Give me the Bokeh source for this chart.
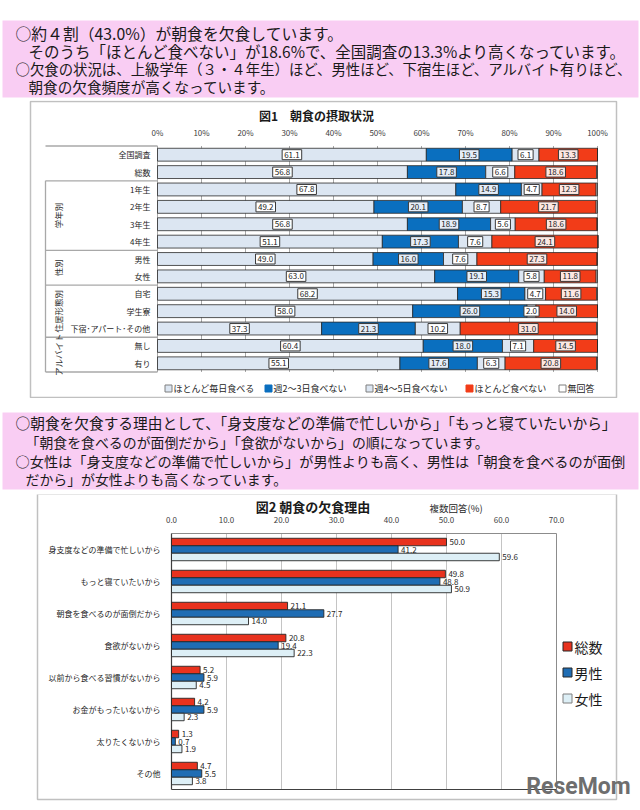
import numpy as np
from bokeh.plotting import figure
from bokeh.models import Range1d, ColumnDataSource
from bokeh.layouts import column
from bokeh.transform import dodge
from bokeh.embed import file_html
from bokeh.resources import INLINE
from bokeh.core.properties import value

FONT = "Noto Sans CJK JP"
W = 640

# ---------------- texts ----------------
summary1 = ["○約４割（43.0%）が朝食を欠食しています。",
            "そのうち「ほとんど食べない」が18.6%で、全国調査の13.3%より高くなっています。",
            "○欠食の状況は、上級学年（３・４年生）ほど、男性ほど、下宿生ほど、アルバイト有りほど、",
            "朝食の欠食頻度が高くなっています。"]
summary2 = ["○朝食を欠食する理由として、「身支度などの準備で忙しいから」「もっと寝ていたいから」",
            "「朝食を食べるのが面倒だから」「食欲がないから」の順になっています。",
            "○女性は「身支度などの準備で忙しいから」が男性よりも高く、男性は「朝食を食べるのが面倒",
            "だから」が女性よりも高くなっています。"]

# ---------------- figure 1 data ----------------
title1 = "図1　朝食の摂取状況"
rows1 = ["全国調査", "総数", "1年生", "2年生", "3年生", "4年生", "男性", "女性",
         "自宅", "学生寮", "下宿･アパート･その他", "無し", "有り"]
every_day = [61.1, 56.8, 67.8, 49.2, 56.8, 51.1, 49.0, 63.0, 68.2, 58.0, 37.3, 60.4, 55.1]
skip_2_3 = [19.5, 17.8, 14.9, 20.1, 18.9, 17.3, 16.0, 19.1, 15.3, 26.0, 21.3, 18.0, 17.6]
skip_4_5 = [6.1, 6.6, 4.7, 8.7, 5.6, 7.6, 7.6, 5.8, 4.7, 2.0, 10.2, 7.1, 6.3]
rarely = [13.3, 18.6, 12.3, 21.7, 18.6, 24.1, 27.3, 11.8, 11.6, 14.0, 31.0, 14.5, 20.8]
no_answer = [0.0, 0.2, 0.3, 0.3, 0.1, 0.0, 0.1, 0.3, 0.2, 0.0, 0.2, 0.0, 0.2]
series1 = ["ほとんど毎日食べる", "週2～3日食べない", "週4～5日食べない", "ほとんど食べない", "無回答"]
groups1 = [("学年別", 2, 5), ("性別", 6, 7), ("住居形態別", 8, 10), ("アルバイト", 11, 12)]
ticks1 = [0, 10, 20, 30, 40, 50, 60, 70, 80, 90, 100]

# ---------------- figure 2 data ----------------
title2 = "図2  朝食の欠食理由"
note2 = "複数回答(%)"
reasons = ["身支度などの準備で忙しいから", "もっと寝ていたいから", "朝食を食べるのが面倒だから",
           "食欲がないから", "以前から食べる習慣がないから", "お金がもったいないから",
           "太りたくないから", "その他"]
total = [50.0, 49.8, 21.1, 20.8, 5.2, 4.2, 1.3, 4.7]
male = [41.2, 48.8, 27.7, 19.4, 5.9, 5.9, 0.7, 5.5]
female = [59.6, 50.9, 14.0, 22.3, 4.5, 2.3, 1.9, 3.8]
series2 = ["総数", "男性", "女性"]
ticks2 = [0, 10, 20, 30, 40, 50, 60, 70]

# ---------------- styles ----------------
PINK = "#F9CDF3"
C1 = ["#DCE6F2", "#0A6FBF", "#DCE6F2", "#F23C18", "#FFFFFF"]
LBL_BG = ["#FFFFFF", "#E4EDF8", "#FFFFFF", "#FCE7E2"]
C2 = ["#E8321E", "#1F6DB4", "#DDEFF6"]
BOX = "#C0C0C0"


def base_fig(h, xr, yr):
    p = figure(width=W, height=h, x_range=xr, y_range=yr, output_backend="svg",
               toolbar_location=None, x_axis_location=None, y_axis_location=None,
               min_border=0, min_border_left=0, min_border_right=0,
               min_border_top=0, min_border_bottom=0)
    p.xgrid.visible = False
    p.ygrid.visible = False
    p.outline_line_color = None
    p.background_fill_color = "white"
    p.border_fill_color = "white"
    return p


def txt(p, x, y, t, size, color="#222222", align="left", baseline="middle",
        angle=0.0, style="normal", font=FONT):
    p.text(x=[x], y=[y], text=[t], text_font=value(font), text_font_size=f"{size}px",
           text_color=color, text_align=align, text_baseline=baseline,
           angle=angle, text_font_style=style)


# ---------------- top pink text panel (page y 0..100) ----------------
pA = base_fig(100, Range1d(0, 640), Range1d(100, 0))
pA.quad(left=2, right=638, top=20, bottom=97, fill_color=PINK, line_color=None)
for t, yy, fs in zip(summary1, [33, 50.5, 68, 85.5], [15.8, 15.5, 14.4, 14.6]):
    txt(pA, 15 if t.startswith("○") else 28, yy, t, fs, color="#1A1A1A")

# ---------------- figure 1 (page y 100..398) ----------------
def X1(px):
    return (px - 157.0) / 4.4


def Y1(py):
    return (py - 154.2) / 17.385


n1 = len(rows1)
p1 = base_fig(298, Range1d(X1(0), X1(640)), Range1d(Y1(398), Y1(100)))
p1.quad(left=X1(30), right=X1(616), top=Y1(101), bottom=Y1(397),
        fill_color=None, line_color=BOX, line_width=1.5)
p1.segment(x0=ticks1, y0=-0.5, x1=ticks1, y1=n1 - 0.5, line_color="#A8A8A8", line_width=1)
bounds = [-0.5, 1.5] + [g[2] + 0.5 for g in groups1]
p1.segment(x0=X1(45), y0=bounds, x1=0, y1=bounds, line_color="#A8A8A8", line_width=1.3)
p1.segment(x0=[X1(45)], y0=[1.5], x1=[X1(45)], y1=[n1 - 0.5], line_color="#A8A8A8", line_width=1.3)

src1 = ColumnDataSource(dict(y=list(range(n1)), every_day=every_day, skip_2_3=skip_2_3,
                             skip_4_5=skip_4_5, rarely=rarely, no_answer=no_answer))
keys1 = ["every_day", "skip_2_3", "skip_4_5", "rarely", "no_answer"]
p1.hbar_stack(keys1, y="y", height=0.74, fill_color=C1, line_color="#2A2A2A",
              line_width=0.8, source=src1)

vals = np.array([every_day, skip_2_3, skip_4_5, rarely])
cum = np.cumsum(vals, axis=0)
for k in range(4):
    centers = cum[k] - vals[k] / 2.0
    p1.text(x=list(centers), y=list(range(n1)), text=[f"{v:.1f}" for v in vals[k]],
            text_font=value(FONT), text_font_size="8px", text_color="#222222",
            text_align="center", text_baseline="middle",
            background_fill_color=LBL_BG[k], border_line_color="#3A3A3A",
            border_line_width=1, padding=2)

p1.text(x=ticks1, y=Y1(132), text=[f"{t}%" for t in ticks1], text_font=value(FONT),
        text_font_size="8px", text_color="#404040", text_align="center", text_baseline="middle")
txt(p1, X1(316), Y1(115), title1, 12, color="#1A1A1A", align="center", style="bold")
p1.text(x=X1(150), y=list(range(n1)), text=rows1, text_font=value(FONT),
        text_font_size="8px", text_color="#262626", text_align="right", text_baseline="middle")
for name, a, b in groups1:
    txt(p1, X1(57), (a + b) / 2.0, name, 8.5, color="#303030", align="center",
        angle=np.pi / 2)
leg_x = [168, 268, 369, 469, 562]
leg_line = ["#7F7F7F", "#0A6FBF", "#7F7F7F", "#F23C18", "#7F7F7F"]
p1.rect(x=[X1(v) for v in leg_x], y=Y1(388), width=7, height=7, width_units="screen",
        height_units="screen", fill_color=C1, line_color=leg_line, line_width=1)
p1.text(x=[X1(v + 5) for v in leg_x], y=Y1(388), text=series1, text_font=value(FONT),
        text_font_size="9px", text_color="#262626", text_align="left", text_baseline="middle")

# ---------------- middle pink text panel (page y 398..494) ----------------
pB = base_fig(96, Range1d(0, 640), Range1d(494, 398))
pB.quad(left=2, right=638, top=412, bottom=489, fill_color=PINK, line_color=None)
for t, yy, fs in zip(summary2, [422, 441, 460, 478.5], [14.7, 13.9, 14.2, 13.9]):
    txt(pB, 15 if t.startswith("○") else 25, yy, t, fs, color="#1A1A1A")

# ---------------- figure 2 (page y 494..810) ----------------
def X2(px):
    return (px - 171.0) / 5.5


def Y2(py):
    return (py - 549.0) / 32.0


n2 = len(reasons)
p2 = base_fig(316, Range1d(X2(0), X2(640)), Range1d(Y2(810), Y2(494)))
p2.quad(left=X2(37), right=X2(616), top=Y2(493.5), bottom=Y2(799),
        fill_color=None, line_color=BOX, line_width=1.5)
p2.segment(x0=ticks2[1:-1], y0=-0.5, x1=ticks2[1:-1], y1=n2 - 0.5, line_color="#C4C4C4", line_width=1)
p2.segment(x0=[0, ticks2[-1]], y0=-0.5, x1=[ticks2[-1], ticks2[-1]], y1=[-0.5, n2 - 0.5],
           line_color="#8C8C8C", line_width=1)
p2.segment(x0=[0, 0], y0=[-0.5, n2 - 0.5], x1=[0, ticks2[-1]], y1=[n2 - 0.5, n2 - 0.5],
           line_color="#404040", line_width=1.2)

src2 = ColumnDataSource(dict(y=list(range(n2)), total=total, male=male, female=female,
                             lt=[f"{v:.1f}" for v in total], lm=[f"{v:.1f}" for v in male],
                             lf=[f"{v:.1f}" for v in female]))
bh = 0.234
for key, lab, off, col in zip(["total", "male", "female"], ["lt", "lm", "lf"], [-bh, 0, bh], C2):
    p2.hbar(y=dodge("y", off, range=p2.y_range), left=0, right=key, height=bh,
            fill_color=col, line_color="#262626", line_width=0.9, source=src2)
    p2.text(x=key, y=dodge("y", off, range=p2.y_range), text=lab, x_offset=3,
            text_font=value(FONT), text_font_size="8px", text_color="#262626",
            text_align="left", text_baseline="middle", source=src2)

p2.text(x=ticks2, y=Y2(519), text=[f"{t:.1f}" for t in ticks2], text_font=value(FONT),
        text_font_size="8px", text_color="#404040", text_align="center", text_baseline="middle")
txt(p2, X2(314), Y2(506), title2, 13, color="#1A1A1A", align="center", style="bold")
txt(p2, X2(429), Y2(507), note2, 9.5, color="#262626", align="left")
p2.text(x=X2(160), y=list(range(n2)), text=reasons, text_font=value(FONT),
        text_font_size="8px", text_color="#262626", text_align="right", text_baseline="middle")
leg2_y = [646, 672, 698]
p2.rect(x=X2(567), y=[Y2(v) for v in leg2_y], width=9, height=9, width_units="screen",
        height_units="screen", fill_color=C2, line_color=["#262626", "#262626", "#7F7F7F"], line_width=1)
p2.text(x=X2(574), y=[Y2(v) for v in leg2_y], text=series2, text_font=value(FONT),
        text_font_size="14px", text_color="#1A1A1A", text_align="left", text_baseline="middle")
txt(p2, X2(578), Y2(786), "ReseMom", 23, color="#6E6E6E", align="center", style="bold",
    font="Roboto")

layout = column(pA, p1, pB, p2, spacing=0)
open("out.html", "w").write(file_html(layout, INLINE))
